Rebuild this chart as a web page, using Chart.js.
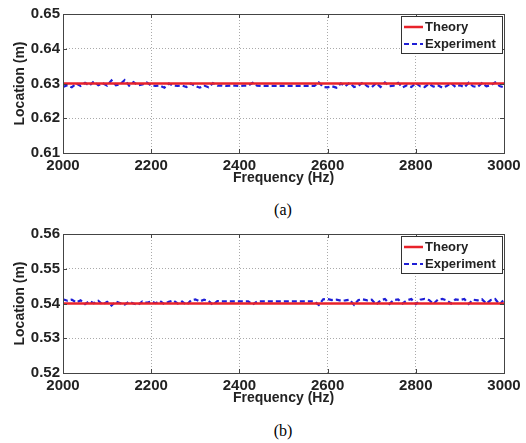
<!DOCTYPE html>
<html>
<head>
<meta charset="utf-8">
<script src="https://cdn.jsdelivr.net/npm/chart.js@4/dist/chart.umd.min.js"></script>
<style>
  html, body { margin:0; padding:0; background:#fff; width:526px; height:443px; overflow:hidden; }
  .wrap { position:absolute; left:0; width:526px; height:190px; }
  .cap { position:absolute; width:60px; left:253px; text-align:center; font-family:"Liberation Serif","Times New Roman",serif; font-size:16px; color:#000; }
</style>
</head>
<body>
<div class="wrap" style="top:0"><canvas id="ca" width="526" height="190"></canvas></div>
<div class="cap" style="top:201px">(a)</div>
<div class="wrap" style="top:220px"><canvas id="cb" width="526" height="190"></canvas></div>
<div class="cap" style="top:422px">(b)</div>
<script>
const freq = [2000,2010,2020,2030,2040,2050,2060,2070,2080,2090,2100,2110,2120,2130,2140,2150,2160,2170,2180,2190,
  2200,2210,2220,2230,2240,2250,2260,2270,2280,2290,2300,2310,2320,2330,2340,2350,2360,2370,2380,2390,
  2400,2410,2420,2430,2440,2450,2460,2470,2480,2490,2500,2510,2520,2530,2540,2550,2560,2570,2580,2590,
  2600,2610,2620,2630,2640,2650,2660,2670,2680,2690,2700,2710,2720,2730,2740,2750,2760,2770,2780,2790,
  2800,2810,2820,2830,2840,2850,2860,2870,2880,2890,2900,2910,2920,2930,2940,2950,2960,2970,2980,2990,3000];
const xTicks = [2000,2200,2400,2600,2800,3000];

const theoryA = 0.63;
const experimentA = [0.6290,0.6295,0.6289,0.6300,0.6293,0.6302,0.6294,0.6306,0.6295,0.6301,
  0.6294,0.6309,0.6295,0.6298,0.6310,0.6294,0.6304,0.6295,0.6297,0.6303,
  0.6294,0.6293,0.6294,0.6288,0.6300,0.6294,0.6293,0.6294,0.6290,0.6300,
  0.6293,0.6288,0.6294,0.6289,0.6301,0.6294,0.6294,0.6293,0.6294,0.6294,
  0.6293,0.6294,0.6294,0.6302,0.6294,0.6293,0.6293,0.6293,0.6293,0.6293,
  0.6293,0.6293,0.6293,0.6293,0.6293,0.6293,0.6293,0.6293,0.6303,0.6290,
  0.6289,0.6292,0.6288,0.6300,0.6292,0.6302,0.6290,0.6294,0.6303,0.6292,
  0.6289,0.6301,0.6290,0.6303,0.6292,0.6294,0.6302,0.6289,0.6295,0.6290,
  0.6301,0.6292,0.6290,0.6299,0.6291,0.6295,0.6288,0.6293,0.6301,0.6290,
  0.6295,0.6289,0.6302,0.6292,0.6290,0.6301,0.6292,0.6295,0.6303,0.6293,0.6289];
const yTicksA = [0.61,0.62,0.63,0.64,0.65];

const theoryB = 0.54;
const experimentB = [0.5412,0.5408,0.5411,0.5403,0.5409,0.5398,0.5407,0.5401,0.5408,0.5397,
  0.5405,0.5394,0.5406,0.5401,0.5397,0.5405,0.5400,0.5396,0.5406,0.5402,
  0.5406,0.5401,0.5407,0.5398,0.5405,0.5409,0.5400,0.5406,0.5396,0.5409,
  0.5412,0.5406,0.5411,0.5407,0.5396,0.5407,0.5406,0.5406,0.5406,0.5406,
  0.5406,0.5406,0.5406,0.5397,0.5406,0.5406,0.5406,0.5406,0.5406,0.5406,
  0.5406,0.5406,0.5406,0.5406,0.5406,0.5406,0.5406,0.5406,0.5396,0.5412,
  0.5413,0.5410,0.5411,0.5408,0.5409,0.5411,0.5396,0.5410,0.5412,0.5409,
  0.5411,0.5397,0.5409,0.5413,0.5399,0.5410,0.5412,0.5400,0.5409,0.5413,
  0.5398,0.5411,0.5413,0.5410,0.5399,0.5411,0.5413,0.5409,0.5400,0.5412,
  0.5410,0.5413,0.5399,0.5411,0.5409,0.5412,0.5400,0.5410,0.5413,0.5397,0.5411];
const yTicksB = [0.52,0.53,0.54,0.55,0.56];

const seriesNames = ['Theory','Experiment'];
const RED = '#e8222a', BLUE = '#1f1fd6';
const FONT = '"Liberation Sans", Arial, sans-serif';

const frame = {
  id:'frame',
  afterDatasetsDraw(chart){
    const {ctx, chartArea:a} = chart;
    ctx.save();
    ctx.strokeStyle = '#444'; ctx.lineWidth = 1;
    ctx.strokeRect(Math.round(a.left)+0.5, Math.round(a.top)+0.5, Math.round(a.right-a.left), Math.round(a.bottom-a.top));
    ctx.beginPath();
    const xs = chart.scales.x, ys = chart.scales.y;
    xs.ticks.forEach(t=>{ const px=Math.round(xs.getPixelForValue(t.value))+0.5;
      ctx.moveTo(px,a.bottom); ctx.lineTo(px,a.bottom-4); ctx.moveTo(px,a.top); ctx.lineTo(px,a.top+4);});
    ys.ticks.forEach(t=>{ const py=Math.round(ys.getPixelForValue(t.value))+0.5;
      ctx.moveTo(a.left,py); ctx.lineTo(a.left+4,py); ctx.moveTo(a.right,py); ctx.lineTo(a.right-4,py);});
    ctx.stroke();
    const bx = a.right-103, by = a.top+2, bw = 101, bh = 37;
    ctx.fillStyle = '#fff'; ctx.fillRect(bx,by,bw,bh);
    ctx.strokeStyle = '#333'; ctx.strokeRect(bx+0.5,by+0.5,bw,bh);
    chart.data.datasets.forEach((ds,i)=>{
      const yy = by + 11 + i*17;
      ctx.beginPath(); ctx.strokeStyle = ds.borderColor; ctx.lineWidth = ds.borderWidth;
      ctx.setLineDash(ds.borderDash || []);
      ctx.moveTo(bx+3,yy); ctx.lineTo(bx+22,yy); ctx.stroke(); ctx.setLineDash([]);
      ctx.fillStyle = '#222'; ctx.font = 'bold 13px '+FONT; ctx.textBaseline='middle'; ctx.textAlign='left';
      ctx.fillText(ds.label, bx+24, yy);
    });
    ctx.restore();
  }
};

function makeChart(id, theory, experiment, yTicks){
  const expPts = freq.map((f,i)=>({x:f, y:experiment[i]}));
  const thPts = freq.map(f=>({x:f, y:theory}));
  return new Chart(document.getElementById(id), {
    type:'line',
    data:{ datasets:[
      {label:seriesNames[0], data:thPts, borderColor:RED, borderWidth:2.5, pointRadius:0, tension:0},
      {label:seriesNames[1], data:expPts, borderColor:BLUE, borderWidth:2.2, borderDash:[5,3], pointRadius:0, tension:0}
    ]},
    options:{
      responsive:false, animation:false, events:[],
      layout:{padding:{top:14, right:22, left:0, bottom:0}},
      plugins:{legend:{display:false}, tooltip:{enabled:false}},
      scales:{
        x:{type:'linear', min:2000, max:3000,
          afterBuildTicks(s){ s.ticks = xTicks.map(v=>({value:v})); },
          afterFit(s){ s.height = 37; },
          grid:{color:'#aaa', lineWidth:1, drawTicks:false},
          border:{display:false, dash:[1,2]},
          ticks:{padding:4, color:'#222', font:{family:FONT, size:15, weight:'bold'}, maxRotation:0, callback:v=>String(v)},
          title:{display:true, text:'Frequency (Hz)', color:'#222', padding:{top:0,bottom:3}, font:{family:FONT, size:14, weight:'bold'}}
        },
        y:{min:yTicks[0], max:yTicks[yTicks.length-1],
          afterBuildTicks(s){ s.ticks = yTicks.map(v=>({value:v})); },
          afterFit(s){ s.width = 63; },
          grid:{color:'#aaa', lineWidth:1, drawTicks:false},
          border:{display:false, dash:[1,2]},
          ticks:{padding:3, color:'#222', font:{family:FONT, size:15, weight:'bold'}, callback:v=>v.toFixed(2)},
          title:{display:true, text:'Location (m)', color:'#222', padding:{top:12,bottom:0}, font:{family:FONT, size:14, weight:'bold'}}
        }
      }
    },
    plugins:[frame]
  });
}
makeChart('ca', theoryA, experimentA, yTicksA);
makeChart('cb', theoryB, experimentB, yTicksB);
</script>
</body>
</html>
